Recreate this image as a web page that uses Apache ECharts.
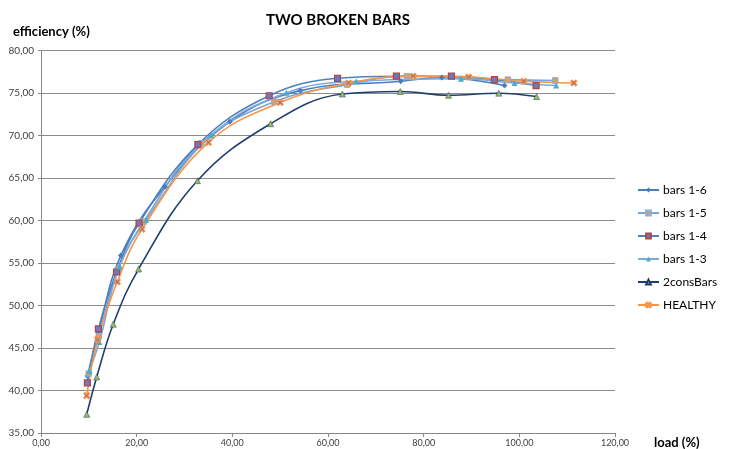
<!DOCTYPE html>
<html>
<head>
<meta charset="utf-8">
<script src="https://cdn.jsdelivr.net/npm/echarts@6/dist/echarts.min.js"></script>
<style>
html,body{margin:0;padding:0;background:#fff;}
#c{width:729px;height:449px;}
</style>
</head>
<body>
<div id="c"></div>
<script>
// Data: [load %, efficiency %]
const bars16 = [[9.7,41.7],[12.0,46.8],[16.7,55.9],[25.9,64.0],[39.5,71.65],[54.2,75.3],[75.2,76.4],[83.8,76.85],[96.9,75.9]];
const bars15 = [[10.0,42.0],[12.1,46.4],[16.2,54.3],[21.5,59.9],[33.5,69.1],[48.8,74.0],[64.0,76.0],[76.5,77.0],[97.6,76.6],[107.5,76.5]];
const bars14 = [[9.7,40.9],[12.0,47.25],[15.8,53.95],[20.5,59.7],[32.8,68.95],[47.7,74.7],[62.0,76.75],[74.3,77.0],[85.8,77.0],[94.8,76.6],[103.5,75.9]];
const bars13 = [[10.1,42.3],[12.2,45.7],[16.4,54.6],[22.0,60.1],[35.6,70.05],[51.3,75.06],[65.9,76.4],[87.8,76.7],[99.0,76.2],[107.7,75.9]];
const consBars = [[9.56,37.2],[11.65,41.6],[15.1,47.8],[20.4,54.3],[32.7,64.7],[48.0,71.4],[63.0,74.9],[75.1,75.2],[85.2,74.75],[95.7,75.0],[103.6,74.6]];
const healthy = [[9.56,39.4],[11.85,46.0],[15.96,52.8],[21.1,59.0],[35.0,69.2],[50.0,73.9],[64.3,76.2],[77.8,77.0],[89.4,76.9],[100.9,76.4],[111.4,76.2]];
const seriesNames = ['bars 1-6','bars 1-5','bars 1-4','bars 1-3','2consBars','HEALTHY'];
const xTicks = [0,20,40,60,80,100,120];
const yTicks = [35,40,45,50,55,60,65,70,75,80];

const fmt = v => v.toFixed(2).replace('.', ',');
const FONT = 'Lato, "Open Sans", sans-serif';
const xPath = 'path://M0,2 L2,0 L5,3 L8,0 L10,2 L7,5 L10,8 L8,10 L5,7 L2,10 L0,8 L3,5 Z';

function mk(name, data, lineColor, symbol, size, fill, border, bw) {
  return {
    name: name, type: 'line', data: data, smooth: 0.4,
    symbol: symbol, symbolSize: size, showSymbol: true,
    lineStyle: {color: lineColor, width: 1.6},
    itemStyle: {color: fill, borderColor: border, borderWidth: bw},
    emphasis: {disabled: true},
    animation: false
  };
}

const chart = echarts.init(document.getElementById('c'), null, {renderer: 'canvas'});
chart.setOption({
  backgroundColor: '#ffffff',
  animation: false,
  title: [
    {text: 'TWO BROKEN BARS', left: 333, top: 8, textAlign: 'center',
     textStyle: {fontFamily: FONT, fontWeight: 'bold', fontSize: 15, color: '#000'}},
    {text: 'efficiency (%)', left: 8, top: 20,
     textStyle: {fontFamily: FONT, fontWeight: 'bold', fontSize: 13, color: '#000'}},
    {text: 'load (%)', left: 649, top: 431,
     textStyle: {fontFamily: FONT, fontWeight: 'bold', fontSize: 13, color: '#000'}}
  ],
  legend: {
    orient: 'vertical', left: 632, top: 179,
    itemWidth: 21, itemHeight: 6, itemGap: 11,
    data: seriesNames,
    textStyle: {fontFamily: FONT, fontSize: 12, color: '#000', padding: [0,0,0,-1]}
  },
  grid: {left: 41, right: 114, top: 50.7, bottom: 16, containLabel: false},
  xAxis: {
    type: 'value', min: xTicks[0], max: xTicks[xTicks.length-1], interval: 20,
    axisLine: {show: true, lineStyle: {color: '#868686', width: 1}},
    axisTick: {show: true, length: 4, lineStyle: {color: '#868686'}},
    splitLine: {show: false},
    axisLabel: {formatter: fmt, fontFamily: FONT, fontSize: 9, color: '#404040', margin: 6}
  },
  yAxis: {
    type: 'value', min: yTicks[0], max: yTicks[yTicks.length-1], interval: 5,
    axisLine: {show: true, lineStyle: {color: '#868686', width: 1}},
    axisTick: {show: true, length: 3, lineStyle: {color: '#868686'}},
    splitLine: {show: true, lineStyle: {color: '#8c8c8c', width: 1}},
    axisLabel: {formatter: fmt, fontFamily: FONT, fontSize: 10, color: '#404040', margin: 7}
  },
  series: [
    mk(seriesNames[0], bars16, '#4A7EBB', 'diamond', 6, '#4A7EBB', '#4A7EBB', 0),
    mk(seriesNames[1], bars15, '#7BA3D4', 'rect', 5.5, '#E59A5E', '#8AAFDC', 1),
    mk(seriesNames[2], bars14, '#4F81BD', 'rect', 6, '#6F79B6', '#B0464A', 1.2),
    mk(seriesNames[3], bars13, '#7EAAD8', 'triangle', 6, '#4BACC6', '#4BACC6', 0),
    mk(seriesNames[4], consBars, '#1F3F6E', 'triangle', 6, '#9BBB59', '#1F3F6E', 0.5),
    mk(seriesNames[5], healthy, '#F79646', xPath, 6, '#7466A8', '#F79646', 1.1)
  ]
});
</script>
</body>
</html>
